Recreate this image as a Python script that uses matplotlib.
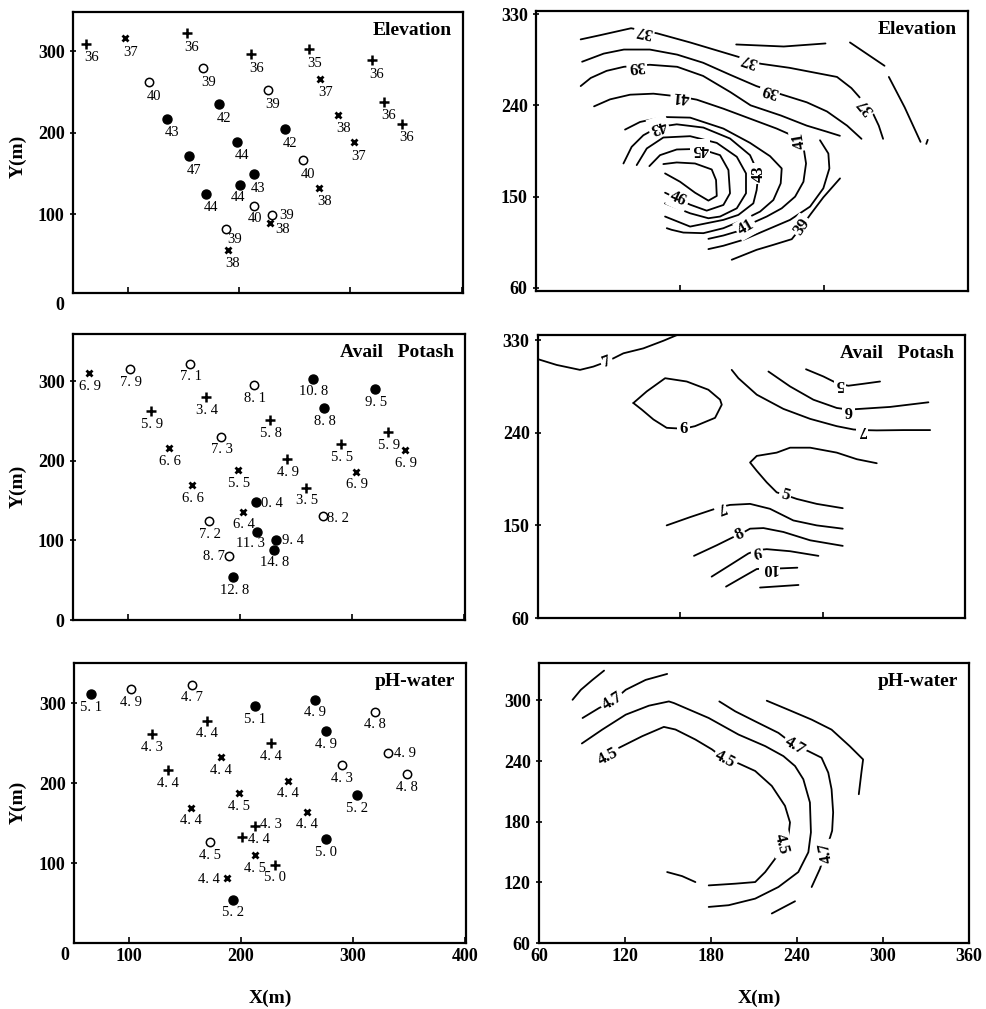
import matplotlib
matplotlib.use("Agg")
import matplotlib.pyplot as plt

plt.rcParams['font.family'] = ['Liberation Serif', 'DejaVu Serif']

# ---------------- sample points (left column) ----------------
# marker codes: '+' plus, 'x' cross, 'o' open circle, '*' solid dot

elev_x = [63, 98, 153, 168, 119, 211, 226, 182, 135, 263, 273, 319, 330, 346, 289,
          303, 241, 198, 155, 257, 213, 201, 170, 272, 213, 230, 228, 188, 190]
elev_y = [309, 316, 322, 279, 262, 296, 252, 235, 217, 302, 266, 289, 238, 211, 222,
          188, 204, 189, 171, 166, 149, 136, 125, 132, 110, 99, 89, 82, 56]
elev_v = [36, 37, 36, 39, 40, 36, 39, 42, 43, 35, 37, 36, 36, 36, 38,
          37, 42, 44, 47, 40, 43, 44, 44, 38, 40, 39, 38, 39, 38]
elev_m = ['+', 'x', '+', 'o', 'o', '+', 'o', '*', '*', '+', 'x', '+', '+', '+', 'x',
          'x', '*', '*', '*', 'o', '*', '*', '*', 'x', 'o', 'o', 'x', 'o', 'x']

potash_x = [65, 102, 155, 170, 121, 213, 265, 321, 275, 227, 183, 137, 290, 332, 347,
            242, 198, 304, 157, 259, 214, 203, 274, 172, 215, 232, 230, 190, 194]
potash_y = [310, 315, 322, 280, 262, 295, 303, 290, 266, 251, 230, 216, 221, 236, 213,
            202, 188, 186, 169, 166, 148, 136, 130, 124, 111, 100, 88, 80, 54]
potash_v = [6.9, 7.9, 7.1, 3.4, 5.9, 8.1, 10.8, 9.5, 8.8, 5.8, 7.3, 6.6, 5.5, 5.9, 6.9,
            4.9, 5.5, 6.9, 6.6, 3.5, 0.4, 6.4, 8.2, 7.2, 11.3, 9.4, 14.8, 8.7, 12.8]
potash_m = ['x', 'o', 'o', '+', '+', 'o', '*', '*', '*', '+', 'o', 'x', '+', '+', 'x',
            '+', 'x', 'x', 'x', '+', '*', 'x', 'o', 'o', '*', '*', '*', 'o', '*']

ph_x = [66, 102, 156, 213, 266, 320, 276, 170, 121, 227, 182, 331, 290, 348,
        135, 242, 304, 198, 155, 259, 213, 201, 276, 172, 213, 230, 188, 193]
ph_y = [311, 317, 323, 296, 304, 289, 265, 278, 261, 250, 232, 238, 222, 211,
        216, 203, 185, 187, 169, 164, 146, 133, 130, 126, 110, 98, 81, 54]
ph_v = [5.1, 4.9, 4.7, 5.1, 4.9, 4.8, 4.9, 4.4, 4.3, 4.4, 4.4, 4.9, 4.3, 4.8,
        4.4, 4.4, 5.2, 4.5, 4.4, 4.4, 4.3, 4.4, 5.0, 4.5, 4.5, 5.0, 4.4, 5.2]
ph_m = ['*', 'o', 'o', '*', '*', 'o', '*', '+', '+', '+', 'x', 'o', 'o', 'o',
        '+', 'x', '*', 'x', 'x', 'x', '+', '+', '*', 'o', 'x', '+', 'x', '*']

# label offsets in points; points not listed use the panel default
elev_off = {21: (-1.4, -9.4), 24: (0.7, -9.4), 25: (10, -0.7), 26: (8.6, -5), 27: (6.5, -7.9)}
potash_off = {20: (11.5, -0.7), 22: (10.8, -1.4), 24: (-4.3, -8.6), 25: (12.2, 0), 27: (-10.8, 0)}
ph_off = {11: (12.2, -0.7), 20: (11.5, 1.4), 21: (12.2, -2.2), 26: (-13, -0.7)}

# ---------------- hand traced contours (right column) ----------------
elev_lines = [
    # 37
    ([91, 104, 126, 144, 167, 200, 216, 236, 269, 279, 284, 294, 298, 301],
     [305, 309, 316, 311, 302, 288, 281, 277, 268, 257, 249, 232, 220, 207]),
    # broken pieces upper right
    ([199, 232, 261], [300, 298, 301]),
    ([278, 302], [302, 279]),
    ([305, 316, 327], [268, 238, 204]),
    ([332, 331], [206, 202]),
    # 38
    ([92, 107, 121, 139, 158, 176, 195, 213, 230, 248, 262, 276, 286],
     [283, 291, 295, 295, 290, 282, 270, 259, 251, 243, 234, 220, 207]),
    # 39
    ([91, 98, 109, 121, 139, 158, 176, 195, 209, 230, 248, 262, 271],
     [259, 267, 274, 278, 280, 278, 269, 253, 240, 230, 220, 214, 210]),
    # 41
    ([100.3, 111.4, 125.3, 141.5, 160.5, 171.6, 190.1, 208.6, 227.1, 237.6, 245.7, 247.5,
      245.7, 239.9, 230.6, 220.2, 210.9, 199.4, 190.1, 179.7],
     [239.0, 245.9, 250.5, 251.5, 248.5, 245.6, 236.7, 226.9, 217.1, 210.5, 199.1, 182.7,
      164.7, 150.0, 138.5, 130.4, 124.5, 115.6, 111.7, 108.4]),
    # 40
    ([257.2, 263.0, 263.7, 259.5, 250.3, 236.4, 220.2, 204.0, 190.1, 179.7],
     [205.6, 192.5, 177.8, 158.2, 140.2, 127.1, 117.3, 107.5, 101.6, 98.3]),
    # 39 lower
    ([195.9, 213.2, 224.8, 237.6, 244.5, 250.3, 259.5, 271.1],
     [87.8, 97.6, 102.5, 108.1, 120.5, 132.0, 149.3, 168.0]),
    # 42
    ([121.8, 132.2, 148.4, 167.0, 190.1, 208.6, 222.5, 230.6, 229.9, 224.8, 215.6, 204.0,
      190.1, 176.2, 162.3, 154.2, 150.8],
     [216.1, 223.6, 228.5, 227.9, 217.1, 203.0, 189.9, 177.8, 163.1, 146.7, 135.3, 127.1,
      118.9, 114.0, 114.6, 117.3, 118.9]),
    # 43
    ([120.7, 126.4, 134.5, 145.0, 157.7, 176.2, 194.7, 208.6, 214.4, 213.2, 210.9, 200.5,
      190.1, 178.5, 167.0, 149.6],
     [182.7, 199.1, 210.5, 218.7, 221.3, 218.1, 207.3, 190.9, 172.9, 156.5, 143.4, 132.0,
      127.1, 123.8, 120.5, 130.4]),
    # 44
    ([129.9, 136.9, 148.4, 167.0, 185.5, 199.4, 205.8, 205.8, 199.4, 187.8, 179.7, 167.0, 149.6],
     [181.1, 197.5, 208.3, 209.6, 203.0, 189.3, 172.9, 153.3, 138.5, 130.4, 128.7, 133.6, 143.4]),
    # 45
    ([138.7, 146.1, 157.7, 173.9, 187.8, 193.6, 194.7, 190.1, 178.5, 167.0, 154.2, 149.6],
     [180.1, 190.9, 196.5, 197.1, 190.9, 176.2, 153.3, 141.8, 136.2, 142.1, 150.7, 153.9]),
    # 46
    ([148.4, 157.7, 170.4, 182.0, 185.0, 185.5, 179.7, 170.4, 160.0, 149.6],
     [182.1, 183.7, 182.7, 176.8, 166.4, 150.7, 146.1, 153.9, 164.7, 172.9]),
]
elev_lab = ['37', '37', '37', '39', '39', '41', '41', '41', '39', '45', '46', '43', '43']
elev_lab_x = [135.2, 208.2, 289.2, 129.9, 222.5, 160.5, 243.0, 205.9, 244.5, 173.9, 158.9, 145.0, 214.4]
elev_lab_y = [313.0, 284.8, 239.0, 279.3, 254.7, 248.5, 205.0, 119.5, 120.5, 196.8, 147.4, 219.0, 172.9]
elev_lab_rot = [168, 161, 130, 186, 163, 175, 100, 30, 55, 180, -25, 198, 90]

potash_lines = [
    ([60.2, 73.1, 89.5, 98.9, 108.3, 120.0, 134.0, 148.1, 157.4],
     [311.4, 305.9, 301.1, 304.3, 309.1, 317.2, 322.0, 329.4, 334.8]),
    ([127.0, 136.4, 149.3, 164.5, 179.7, 187.9, 189.1, 184.4, 170.3, 162.1, 150.4, 141.1, 132.9, 127.0],
     [268.9, 280.2, 293.0, 289.8, 281.8, 272.2, 267.3, 254.5, 246.4, 243.9, 244.8, 252.9, 262.5, 268.9]),
    ([248.3, 260.5, 267.6, 272.2, 278.1, 288.6, 300.3],
     [301.7, 294.7, 289.8, 287.3, 285.7, 287.6, 289.8]),
    ([221.9, 237.1, 253.5, 269.9, 278.1, 286.3, 307.4, 334.3],
     [299.5, 285.0, 272.1, 264.1, 262.5, 263.2, 265.1, 269.6]),
    ([196.1, 200.8, 213.7, 232.4, 251.2, 269.9, 281.6, 287.5, 298.0, 316.7, 335.5],
     [301.1, 293.0, 277.0, 263.2, 253.5, 246.4, 243.2, 242.6, 242.3, 242.6, 242.6]),
    ([298.0, 284.0, 269.9, 251.2, 237.1, 227.7, 213.7, 209.0, 213.7, 220.7, 227.7, 233.6,
      241.8, 255.8, 274.1],
     [210.4, 214.3, 220.7, 225.5, 225.5, 220.7, 217.5, 211.1, 203.0, 191.8, 182.1, 179.6,
      175.7, 170.9, 166.7]),
    ([150.4, 166.8, 180.9, 187.9, 194.9, 209.0, 223.0, 239.4, 255.8, 274.1],
     [150.0, 158.0, 164.5, 167.7, 169.9, 170.9, 166.1, 154.8, 150.0, 146.8]),
    ([169.6, 185.6, 197.3, 201.5, 209.0, 218.4, 232.4, 251.2, 274.1],
     [120.4, 130.7, 138.7, 141.0, 146.8, 147.4, 143.6, 135.5, 130.1]),
    ([182.0, 194.9, 207.8, 213.7, 220.7, 237.1, 257.0],
     [100.2, 111.4, 122.7, 125.9, 126.9, 124.9, 120.4]),
    ([192.1, 204.3, 213.7, 222.6, 230.1, 242.2],
     [90.5, 100.2, 107.6, 108.2, 108.2, 108.9]),
    ([216.0, 243.0], [89.6, 92.1]),
]
potash_lab = ['7', '6', '5', '6', '7', '5', '7', '8', '9', '10']
potash_lab_x = [108.3, 162.1, 272.2, 278.1, 287.5, 233.6, 187.9, 201.5, 213.7, 222.6]
potash_lab_y = [309.1, 243.9, 287.3, 262.5, 242.6, 179.6, 167.7, 141.0, 125.9, 108.2]
potash_lab_rot = [20, 0, 180, 180, 180, -15, 200, 25, 190, 180]

ph_lines = [
    ([83.4, 89.2, 97.3, 105.4], [300.6, 310.5, 320.3, 329.5]),
    ([90.4, 101.9, 111.2, 120.5, 134.4, 149.4], [282.6, 292.5, 299.0, 310.5, 320.3, 326.2]),
    ([89.9, 104.2, 120.5, 136.7, 150.6, 154.1, 178.4, 199.2, 217.8, 230.5, 238.6, 244.4,
      249.0, 249.7, 247.9, 240.9, 227.0, 210.8, 192.3, 178.4],
     [257.4, 271.2, 285.9, 294.8, 299.0, 297.4, 282.6, 266.2, 254.8, 244.9, 235.1, 222.0,
      199.0, 169.5, 149.8, 130.2, 115.4, 103.9, 97.4, 95.7]),
    ([115.8, 132.0, 147.1, 155.2, 169.1, 180.7, 189.9, 199.2, 210.8, 222.4, 231.6, 235.1,
      234.0, 229.3, 224.7, 217.8, 210.8, 196.9, 178.4],
     [253.1, 264.6, 273.8, 271.2, 261.3, 251.5, 241.6, 237.7, 230.2, 215.4, 195.7, 179.3,
      166.2, 158.0, 143.3, 130.2, 120.3, 118.7, 117.0]),
    ([149.4, 159.8, 169.1], [130.2, 126.2, 120.3]),
    ([185.8, 196.9, 210.8, 227.0, 238.6, 247.9, 257.1, 261.8, 264.1, 265.2, 264.5, 259.9,
      256.0, 250.2],
     [299.0, 289.2, 279.3, 267.9, 255.4, 249.8, 243.3, 228.5, 212.1, 189.2, 171.1, 149.8,
      133.4, 115.4]),
    ([218.9, 233.9, 250.2, 264.1, 276.8, 286.1, 284.9, 283.1],
     [299.7, 290.8, 281.0, 271.1, 254.7, 241.6, 228.5, 207.2]),
    ([222.4, 238.6], [89.2, 101.3]),
]
ph_lab = ['4.7', '4.5', '4.5', '4.5', '4.7', '4.7']
ph_lab_x = [111.2, 108.5, 189.9, 229.3, 238.6, 259.9]
ph_lab_y = [299.0, 244.0, 241.6, 158.0, 255.4, 149.8]
ph_lab_rot = [32, 28, -28, -75, -31, 100]

fig = plt.figure(figsize=(9.87, 10.09), dpi=100)


def bold_ticks(ax):
    for t in ax.get_xticklabels() + ax.get_yticklabels():
        t.set_fontweight('bold')


def point_panel(rect, xs, ys, vals, mks, fmt, dflt, offs, title, ylim, yticks):
    ax = fig.add_axes(rect)
    for i in range(len(xs)):
        m = mks[i]
        if m == '+':
            ax.plot(xs[i], ys[i], marker='+', ms=7, mew=1.8, color='black')
        elif m == 'x':
            ax.plot(xs[i], ys[i], marker='x', ms=5, mew=2.0, color='black')
        elif m == 'o':
            ax.plot(xs[i], ys[i], marker='o', ms=6, mfc='white', mec='black', mew=1.1)
        else:
            ax.plot(xs[i], ys[i], marker='o', ms=6.5, color='black')
        dx, dy = offs.get(i, dflt)
        ax.annotate(fmt(vals[i]), (xs[i], ys[i]), xytext=(dx, dy), textcoords='offset points',
                    ha='center', va='center', fontsize=10.5)
    ax.set_xlim(51, 401)
    ax.set_ylim(*ylim)
    ax.set_xticks([100, 200, 300, 400])
    ax.set_yticks(yticks)
    ax.tick_params(axis='x', direction='in', length=4, width=1.2, labelsize=13)
    ax.tick_params(axis='y', direction='inout', length=5, width=1.2, labelsize=13)
    bold_ticks(ax)
    for s in ax.spines.values():
        s.set_linewidth(1.6)
    ax.annotate(title, xy=(1, 1), xycoords='axes fraction', xytext=(-8, -13),
                textcoords='offset points', ha='right', va='center', fontsize=14,
                fontweight='bold')
    return ax


def contour_panel(rect, lines, labs, lx, ly, lr, title, ylim, yticks):
    ax = fig.add_axes(rect)
    for xs, ys in lines:
        ax.plot(xs, ys, color='black', lw=1.3, solid_joinstyle='round', solid_capstyle='round')
    for s, x, y, r in zip(labs, lx, ly, lr):
        ax.text(x, y, s, rotation=r, rotation_mode='anchor', ha='center', va='center',
                fontsize=12, fontweight='bold',
                bbox=dict(boxstyle='square,pad=0.12', fc='white', ec='none'))
    ax.set_xlim(60, 360)
    ax.set_ylim(*ylim)
    ax.set_yticks(yticks)
    ax.tick_params(axis='x', direction='in', length=4, width=1.2, labelsize=13)
    ax.tick_params(axis='y', direction='inout', length=5, width=1.2, labelsize=13)
    for s in ax.spines.values():
        s.set_linewidth(1.6)
    ax.annotate(title, xy=(1, 1), xycoords='axes fraction', xytext=(-8, -13),
                textcoords='offset points', ha='right', va='center', fontsize=14,
                fontweight='bold')
    return ax


def fmt_int(v):
    return str(v)


def fmt_dec(v):
    return f"{v:.1f}".replace('.', '. ')


# left column
ax1 = point_panel([0.0740, 0.7096, 0.3951, 0.2785], elev_x, elev_y, elev_v, elev_m, fmt_int,
                  (3.6, -10.1), elev_off, 'Elevation', (3, 348), [100, 200, 300])
ax1.set_xticklabels([])
ax1.text(-0.033, -0.043, '0', transform=ax1.transAxes, ha='center', va='center',
         fontsize=13, fontweight='bold')

ax2 = point_panel([0.0740, 0.3855, 0.3972, 0.2834], potash_x, potash_y, potash_v, potash_m,
                  fmt_dec, (0.7, -9.4), potash_off, 'Avail   Potash', (1, 359), [0, 100, 200, 300])
ax2.set_xticklabels([])
bold_ticks(ax2)

ax3 = point_panel([0.0750, 0.0654, 0.3972, 0.2775], ph_x, ph_y, ph_v, ph_m, fmt_dec,
                  (0, -9.4), ph_off, 'pH-water', (0, 350), [100, 200, 300])
bold_ticks(ax3)
ax3.text(-0.023, -0.043, '0', transform=ax3.transAxes, ha='center', va='center',
         fontsize=13, fontweight='bold')

# right column
ax4 = contour_panel([0.5431, 0.7116, 0.4377, 0.2775], elev_lines, elev_lab, elev_lab_x,
                    elev_lab_y, elev_lab_rot, 'Elevation', (57, 333), [60, 150, 240, 330])
ax4.set_xticks([160, 260])
ax4.set_xticklabels([])
bold_ticks(ax4)

ax5 = contour_panel([0.5451, 0.3875, 0.4326, 0.2805], potash_lines, potash_lab, potash_lab_x,
                    potash_lab_y, potash_lab_rot, 'Avail   Potash', (60, 335), [60, 150, 240, 330])
ax5.set_xticks([160, 260])
ax5.set_xticklabels([])
bold_ticks(ax5)

ax6 = contour_panel([0.5461, 0.0654, 0.4357, 0.2775], ph_lines, ph_lab, ph_lab_x, ph_lab_y,
                    ph_lab_rot, 'pH-water', (60, 337), [60, 120, 180, 240, 300])
ax6.set_xticks([60, 120, 180, 240, 300, 360])
bold_ticks(ax6)

# axis titles
for yc in [0.845, 0.518, 0.205]:
    fig.text(0.018, yc, 'Y(m)', rotation=90, ha='center', va='center', fontsize=14,
             fontweight='bold')
fig.text(0.274, 0.011, 'X(m)', ha='center', va='center', fontsize=14, fontweight='bold')
fig.text(0.769, 0.011, 'X(m)', ha='center', va='center', fontsize=14, fontweight='bold')

fig.savefig('out.png', dpi=100, facecolor='white')
